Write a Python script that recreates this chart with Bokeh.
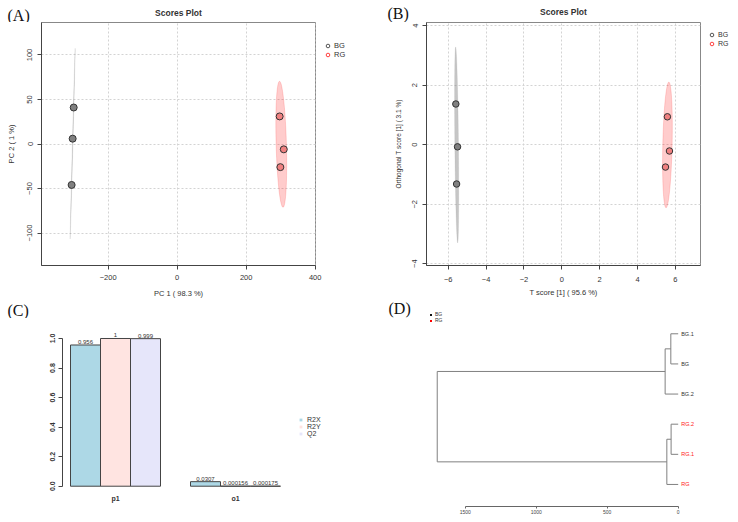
import numpy as np
from bokeh.plotting import figure
from bokeh.models import Range1d, FixedTicker, Legend, LegendItem, Label, PrintfTickFormatter
from bokeh.layouts import column, row
from bokeh.core.properties import value
from bokeh.embed import file_html
from bokeh.resources import INLINE

# ---------------- data ----------------
groups = ["BG", "RG"]
sample_group = ["BG", "BG", "BG", "RG", "RG", "RG"]

# (A) PCA scores
pca_pc1 = [-300, -303, -306, 297, 309, 299]
pca_pc2 = [41, 6, -46, 31, -6, -26]
pca_xticks = [-200, 0, 200, 400]
pca_yticks = [-100, -50, 0, 50, 100]

# (B) OPLS-DA scores
opls_t1 = [-5.60, -5.51, -5.56, 5.58, 5.69, 5.48]
opls_to1 = [1.37, -0.07, -1.32, 0.94, -0.21, -0.75]
opls_xticks = [-6, -4, -2, 0, 2, 4, 6]
opls_yticks = [-4, -2, 0, 2, 4]

# (C) model overview
comp_names = ["p1", "o1"]
metric_names = ["R2X", "R2Y", "Q2"]
r2x = [0.956, 0.0307]
r2y = [1.0, 0.000156]
q2 = [0.999, 0.000175]
r2x_lbl = ["0.956", "0.0307"]
r2y_lbl = ["1", "0.000156"]
q2_lbl = ["0.999", "0.000175"]
metric_colors = ["#ADD8E6", "#FFE4E1", "#E6E6FA"]
c_yticks = [0, 0.2, 0.4, 0.6, 0.8, 1.0]

# (D) hierarchical clustering (hclust-style merge table, leaves in plotted order)
leaf_labels = ["BG.1", "BG", "BG.2", "RG.2", "RG.1", "RG"]
leaf_groups = ["BG", "BG", "BG", "RG", "RG", "RG"]
merge_a = [-1, 1, -4, 3, 2]
merge_b = [-2, -3, -5, -6, 4]
merge_h = [52, 92, 50, 80, 1697]
dend_ticks = [0, 500, 1000, 1500]

pt_fill = {"BG": "#808080", "RG": "#F08080"}
ell_col = {"BG": "#808080", "RG": "#FF0000"}
ell_alpha = {"BG": 0.45, "RG": 0.2}
ell_line_alpha = {"BG": 0.12, "RG": 0.15}
leg_col = {"BG": "#555555", "RG": "#FF4040"}
lab_col = {"BG": "#333333", "RG": "#FF2020"}
dleg_col = {"BG": "#111111", "RG": "#FF0000"}

SANS = "Liberation Sans"
SERIF = "Liberation Serif"

# page geometry (px): frames as (left, top, right, bottom)
FA = (41, 22, 315, 266)
FB = (426, 22, 700, 266)
FC = (62, 318, 368, 506)
FD = (378, 300, 736, 506)


def conf_ellipse(x, y, level=0.95, n=100):
    x = np.asarray(x, float)
    y = np.asarray(y, float)
    cov = np.cov(x, y)
    sx, sy = np.sqrt(cov[0, 0]), np.sqrt(cov[1, 1])
    r = np.clip(cov[0, 1] / (sx * sy), -1, 1)
    t = np.sqrt(-2 * np.log(1 - level))
    d = np.arccos(r)
    a = np.linspace(0, 2 * np.pi, n)
    return x.mean() + t * sx * np.cos(a + d / 2), y.mean() + t * sy * np.cos(a - d / 2)


def px2data(px, py, frame, xr, yr):
    l, t, r, b = frame
    x = xr[0] + (px - l) / (r - l) * (xr[1] - xr[0])
    y = yr[0] + (b - py) / (b - t) * (yr[1] - yr[0])
    return x, y


def strip(x0, y0, x1, y1, bottom=0):
    s = figure(width=x1 - x0, height=y1 - y0, x_range=Range1d(x0, x1), y_range=Range1d(y1, y0),
               output_backend="svg", toolbar_location=None,
               min_border_left=0, min_border_right=0, min_border_top=0, min_border_bottom=bottom,
               background_fill_color="white", border_fill_color="white")
    s.title.visible = False
    s.xaxis.visible = False
    s.yaxis.visible = False
    s.xgrid.visible = False
    s.ygrid.visible = False
    s.outline_line_color = None
    return s


def letter(p, x, y, txt):
    p.add_layout(Label(x=x, y=y, text=txt, text_font=SERIF, text_font_size="16px",
                       text_baseline="middle", text_align="left", text_color="#111111"))


def score_plot(xs, ys, xr, yr, xticks, yticks, frame, fig_box, xlabel, ylabel, psize, fonts):
    l, t, r, b = frame
    fl, ft, fr, fb = fig_box
    p = figure(width=fr - fl, height=fb - ft, x_range=Range1d(*xr), y_range=Range1d(*yr),
               output_backend="svg", toolbar_location=None,
               min_border_left=l - fl, min_border_right=fr - r,
               min_border_top=t - ft, min_border_bottom=fb - b,
               background_fill_color="white", border_fill_color="white")
    p.title.visible = False
    p.xaxis.ticker = FixedTicker(ticks=xticks)
    p.yaxis.ticker = FixedTicker(ticks=yticks)
    p.xgrid.ticker = FixedTicker(ticks=xticks)
    p.ygrid.ticker = FixedTicker(ticks=yticks)
    p.xaxis.axis_label = xlabel
    p.yaxis.axis_label = ylabel
    tick_font, xlab_font, ylab_font = fonts
    for ax in (p.xaxis[0], p.yaxis[0]):
        ax.axis_line_color = "#444444"
        ax.major_tick_line_color = "#444444"
        ax.minor_tick_line_color = None
        ax.major_tick_in = 0
        ax.major_tick_out = 4
        ax.major_label_text_font = SANS
        ax.major_label_text_color = "#333333"
        ax.major_label_text_font_size = tick_font
        ax.axis_label_text_font = SANS
        ax.axis_label_text_font_style = "normal"
        ax.axis_label_text_color = "#333333"
    p.xaxis.axis_label_text_font_size = xlab_font
    p.yaxis.axis_label_text_font_size = ylab_font
    p.yaxis.major_label_orientation = "vertical"
    p.outline_line_color = "#888888"
    for g in (p.xgrid[0], p.ygrid[0]):
        g.grid_line_color = "#D3D3D3"
        g.grid_line_dash = "2 2"

    for g in groups:
        gx = [x for x, s in zip(xs, sample_group) if s == g]
        gy = [y for y, s in zip(ys, sample_group) if s == g]
        ex, ey = conf_ellipse(gx, gy)
        p.patch(ex, ey, fill_color=ell_col[g], fill_alpha=ell_alpha[g],
                line_color=ell_col[g], line_alpha=ell_line_alpha[g], line_width=1)
    for g in groups:
        gx = [x for x, s in zip(xs, sample_group) if s == g]
        gy = [y for y, s in zip(ys, sample_group) if s == g]
        p.scatter(gx, gy, marker="circle", size=psize, fill_color=pt_fill[g],
                  line_color="#333333", line_width=1)
    return p


def legend_strip(xs, ys, fig_box, bottom, loc, spacing, font):
    fl, ft, fr, fb = fig_box
    s = strip(fl, ft, fr, fb, bottom=bottom)
    s.x_range = Range1d(min(xs), max(xs))
    s.y_range = Range1d(min(ys), max(ys))
    items = []
    for g in groups:
        gx = [x for x, sg in zip(xs, sample_group) if sg == g]
        gy = [y for y, sg in zip(ys, sample_group) if sg == g]
        key = s.scatter(gx, gy, marker="circle", size=4, fill_color=None,
                        line_color=leg_col[g], line_width=1, visible=False)
        items.append(LegendItem(label=g, renderers=[key]))
    s.add_layout(Legend(items=items, location=loc, orientation="vertical",
                        border_line_color=None, background_fill_alpha=0,
                        padding=0, margin=0, spacing=spacing, label_standoff=2,
                        glyph_width=9, glyph_height=9, label_height=9,
                        label_text_font=SANS, label_text_font_size=font,
                        label_text_color="#333333", inactive_fill_alpha=0))
    return s


# ---------------- top strip: panel letters and titles ----------------
sTop = strip(0, 0, 736, 22)
letter(sTop, 7, 14.5, "(A)")
letter(sTop, 387, 13, "(B)")
for fr_, ty in ((FA, 12.3), (FB, 11)):
    sTop.add_layout(Label(x=(fr_[0] + fr_[2]) / 2, y=ty, text="Scores Plot", text_font=SANS,
                          text_font_size="8.5px", text_font_style="bold", text_color="#333333",
                          text_align="center", text_baseline="middle"))

# ---------------- (A) ----------------
pA = score_plot(pca_pc1, pca_pc2, (-393.3, 400.9), (-136.5, 136.5), pca_xticks, pca_yticks,
                FA, (0, 22, 322, 300), "PC 1 ( 98.3 %)", "PC 2 ( 1 %)", 7,
                ("7.5px", "7.5px", "7.5px"))
pA.xaxis.major_label_standoff = 5
pA.yaxis.major_label_standoff = 5
pA.xaxis.axis_label_standoff = 6
pA.yaxis.axis_label_standoff = 9
lA = legend_strip(pca_pc1, pca_pc2, (322, 22, 368, 300), 34, (1, 206), -1, "7.5px")

# ---------------- (B) ----------------
pB = score_plot(opls_t1, opls_to1, (-7.15, 7.33), (-4.06, 4.11), opls_xticks, opls_yticks,
                FB, (368, 22, 702, 300), "T score [1] ( 95.6 %)", "Orthogonal T score [1] ( 3.1 %)",
                6.5, ("7.5px", "7.5px", "6.5px"))
pB.xaxis.major_label_standoff = 7
pB.yaxis.major_label_standoff = 5
pB.xaxis.axis_label_standoff = 3
pB.yaxis.axis_label_standoff = 8
lB = legend_strip(opls_t1, opls_to1, (702, 22, 736, 300), 34, (5, 217), -2, "7px")

# ---------------- (C) ----------------
sC = strip(0, 300, 368, 318)
letter(sC, 7, 310, "(C)")

xrC = (0.7333, 10.9333)
yrC = (-0.1374, 1.1354)
pC = figure(width=368, height=202, x_range=Range1d(*xrC), y_range=Range1d(*yrC),
            output_backend="svg", toolbar_location=None,
            min_border_left=62, min_border_right=0, min_border_top=0, min_border_bottom=14,
            background_fill_color="white", border_fill_color="white")
pC.title.visible = False
pC.outline_line_color = None
pC.xgrid.visible = False
pC.ygrid.visible = False
pC.xaxis.visible = False
n_m = len(metric_names)
group_w = n_m + 1
centers = [[1 + gi * group_w + mi + 0.5 for gi in range(len(comp_names))] for mi in range(n_m)]
vals = [r2x, r2y, q2]
lbls = [r2x_lbl, r2y_lbl, q2_lbl]
leg_items = []
for mi in range(n_m):
    pC.vbar(x=centers[mi], top=vals[mi], bottom=0, width=1, fill_color=metric_colors[mi],
            line_color="#444444", line_width=1)
    pC.text(x=centers[mi], y=vals[mi], text=lbls[mi], text_align="center", text_baseline="bottom",
            y_offset=-1, text_font=value(SANS), text_font_size="6px", text_color="#333333")
    key = pC.scatter(centers[mi], vals[mi], marker="square", size=4, fill_color=metric_colors[mi],
                     line_color=None, visible=False)
    leg_items.append(LegendItem(label=metric_names[mi], renderers=[key]))
pC.add_layout(Legend(items=leg_items, location=(235, 69), border_line_color=None,
                     background_fill_alpha=0, padding=0, margin=0, spacing=-1,
                     label_standoff=3, glyph_width=7, glyph_height=7, label_height=7,
                     label_text_font=SANS, label_text_font_size="7px", label_text_color="#333333",
                     inactive_fill_alpha=0))
grp_centers = [1 + gi * group_w + n_m / 2 for gi in range(len(comp_names))]
pC.text(x=grp_centers, y=[0] * len(grp_centers), text=comp_names, text_align="center",
        text_baseline="middle", y_offset=12, text_font=value(SANS), text_font_style="bold",
        text_font_size="7px", text_color="#333333")
pC.yaxis.ticker = FixedTicker(ticks=c_yticks)
pC.yaxis.formatter = PrintfTickFormatter(format="%.1f")
pC.yaxis.bounds = (0, 1)
pC.yaxis.axis_line_color = "#444444"
pC.yaxis.major_tick_line_color = "#444444"
pC.yaxis.minor_tick_line_color = None
pC.yaxis.major_tick_in = 0
pC.yaxis.major_tick_out = 4
pC.yaxis.major_label_orientation = "vertical"
pC.yaxis.major_label_standoff = 3
pC.yaxis.major_label_text_font = SANS
pC.yaxis.major_label_text_font_style = "bold"
pC.yaxis.major_label_text_font_size = "7px"
pC.yaxis.major_label_text_color = "#333333"

# ---------------- (D) ----------------
xrD = (2110.6, -410.6)
yrD = (6.732, -0.105)
pD = figure(width=368, height=220, x_range=Range1d(*xrD), y_range=Range1d(*yrD),
            output_backend="svg", toolbar_location=None,
            min_border_left=10, min_border_right=0, min_border_top=0, min_border_bottom=14,
            background_fill_color="white", border_fill_color="white")
pD.title.visible = False
pD.outline_line_color = None
pD.xgrid.visible = False
pD.ygrid.visible = False
pD.yaxis.visible = False

node_h = {}
node_y = {}
x0s, y0s, x1s, y1s = [], [], [], []


def child_pos(c):
    if c < 0:
        return 0.0, float(-c)
    return node_h[c], node_y[c]


for k, (a, b_, h) in enumerate(zip(merge_a, merge_b, merge_h), start=1):
    ha, ya = child_pos(a)
    hb, yb = child_pos(b_)
    x0s += [ha, hb, h]
    y0s += [ya, yb, ya]
    x1s += [h, h, h]
    y1s += [ya, yb, yb]
    node_h[k] = h
    node_y[k] = (ya + yb) / 2

pD.segment(x0=x0s, y0=y0s, x1=x1s, y1=y1s, line_color="#808080", line_width=1)
leaf_pos = list(range(1, len(leaf_labels) + 1))
leg_items = []
for g in groups:
    ys = [yp for yp, lg in zip(leaf_pos, leaf_groups) if lg == g]
    ls = [lb for lb, lg in zip(leaf_labels, leaf_groups) if lg == g]
    pD.text(x=[0] * len(ys), y=ys, text=ls, x_offset=3, text_baseline="middle", text_align="left",
            text_font=value(SANS), text_font_size="5.5px", text_color=lab_col[g])
    key = pD.scatter([0] * len(ys), ys, marker="square", size=3, fill_color=dleg_col[g],
                     line_color=None, visible=False)
    leg_items.append(LegendItem(label=g, renderers=[key]))
pD.add_layout(Legend(items=leg_items, location=(50, 183), border_line_color=None,
                     background_fill_alpha=0, padding=0, margin=0, spacing=-1,
                     label_standoff=2, glyph_width=5, glyph_height=5, label_height=5,
                     label_text_font=SANS, label_text_font_size="5px", label_text_color="#333333",
                     inactive_fill_alpha=0))
pD.xaxis.ticker = FixedTicker(ticks=dend_ticks)
pD.xaxis.bounds = (0, 1500)
pD.xaxis.axis_line_color = "#666666"
pD.xaxis.major_tick_line_color = "#666666"
pD.xaxis.minor_tick_line_color = None
pD.xaxis.major_tick_in = 0
pD.xaxis.major_tick_out = 2
pD.xaxis.major_label_standoff = 1
pD.xaxis.major_label_text_font = SANS
pD.xaxis.major_label_text_font_size = "5px"
pD.xaxis.major_label_text_color = "#444444"
dx, dy = px2data(388, 308, FD, xrD, yrD)
letter(pD, dx, dy, "(D)")

layout = column(sTop, row(pA, lA, pB, lB), row(column(row(sC), pC), pD))
open("out.html", "w").write(file_html(layout, INLINE))
